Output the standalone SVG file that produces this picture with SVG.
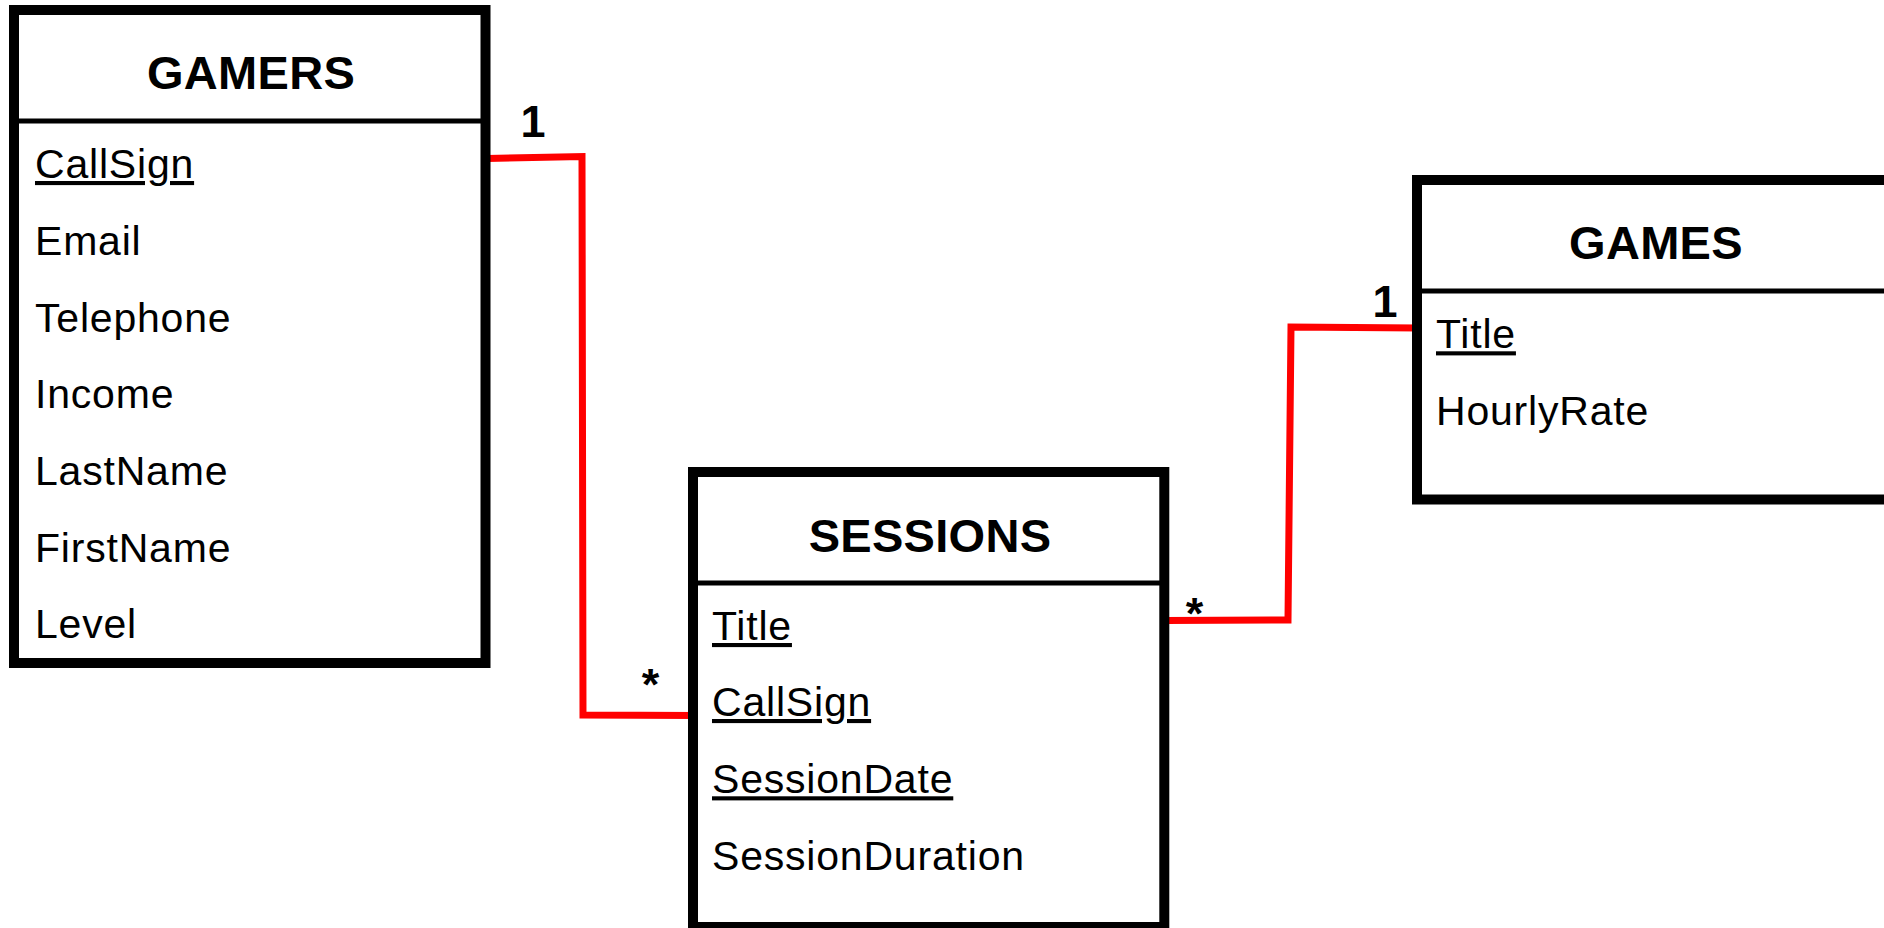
<svg xmlns="http://www.w3.org/2000/svg" width="1884" height="928" viewBox="0 0 1884 928">
  <style>
    .box { fill: #ffffff; stroke: #000000; stroke-width: 10; }
    .div { stroke: #000000; stroke-width: 5; }
    .title { font-family: "Liberation Sans", Arial, sans-serif; font-weight: bold; font-size: 47px; letter-spacing: 0.3px; fill: #000; text-anchor: middle; }
    .attr { font-family: "Liberation Sans", Arial, sans-serif; font-size: 41px; letter-spacing: 0.8px; fill: #000; }
    .key { text-decoration: underline; }
    .conn { fill: none; stroke: #ff0000; stroke-width: 7; stroke-linejoin: miter; }
    .mult { font-family: "Liberation Sans", Arial, sans-serif; font-weight: bold; font-size: 45px; fill: #000; text-anchor: middle; }
  </style>
  <rect x="0" y="0" width="1884" height="928" fill="#ffffff"/>

  <g id="connectors">
    <polyline class="conn" points="487,158.5 582,156.5 583,715 696,715.5"/>
    <polyline class="conn" points="1165,620.5 1288,620 1291,327 1419,328"/>
    <text class="mult" x="533" y="137">1</text>
    <text class="mult" x="650.5" y="700">*</text>
    <text class="mult" x="1194.5" y="629">*</text>
    <text class="mult" x="1385" y="317">1</text>
  </g>

  <g id="gamers">
    <rect class="box" x="14" y="10" width="471.5" height="653"/>
    <line class="div" x1="14" y1="121" x2="485.5" y2="121"/>
    <text class="title" x="251" y="89">GAMERS</text>
    <text class="attr key" x="35" y="178">CallSign</text>
    <text class="attr" x="35" y="255">Email</text>
    <text class="attr" x="35" y="331.7">Telephone</text>
    <text class="attr" x="35" y="408.3">Income</text>
    <text class="attr" x="35" y="485">LastName</text>
    <text class="attr" x="35" y="561.7">FirstName</text>
    <text class="attr" x="35" y="638.3">Level</text>
  </g>

  <g id="sessions">
    <rect class="box" x="693" y="472" width="471.3" height="455"/>
    <line class="div" x1="693" y1="583" x2="1164.3" y2="583"/>
    <text class="title" x="930" y="552">SESSIONS</text>
    <text class="attr key" x="712" y="640">Title</text>
    <text class="attr key" x="712" y="716">CallSign</text>
    <text class="attr key" x="712" y="793.3">SessionDate</text>
    <text class="attr" x="712" y="870">SessionDuration</text>
  </g>

  <g id="games">
    <rect class="box" x="1417" y="180" width="472" height="319.5"/>
    <line class="div" x1="1417" y1="291" x2="1889" y2="291"/>
    <text class="title" x="1656" y="259">GAMES</text>
    <text class="attr key" x="1436" y="348.3">Title</text>
    <text class="attr" x="1436" y="425">HourlyRate</text>
  </g>
</svg>
